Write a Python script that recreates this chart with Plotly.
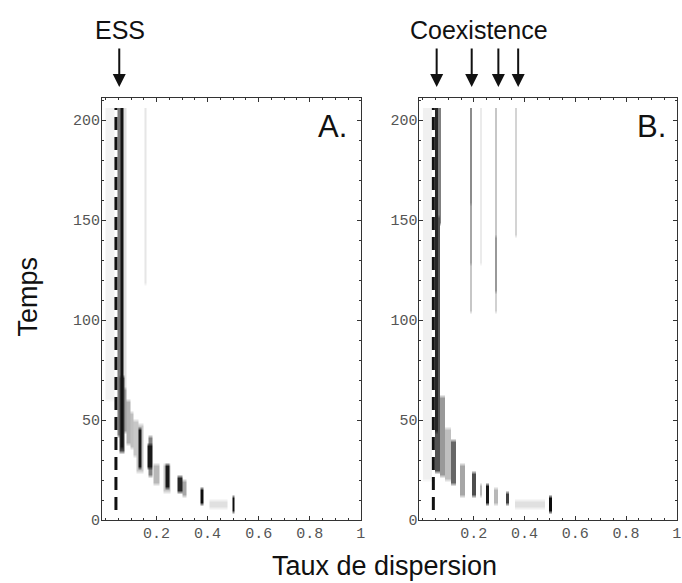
import numpy as np
import plotly.graph_objects as go

# ---------------- data ----------------
# Each patch: dispersion-rate interval [x0, x1], time interval [t0, t1], grey level (0 white .. 1 black)
a_x0 = [0.000, 0.046, 0.057, 0.068, 0.150, 0.052, 0.068, 0.080, 0.095, 0.110, 0.127, 0.120, 0.166, 0.168, 0.184, 0.236, 0.228, 0.281, 0.300, 0.372, 0.405, 0.495]
a_x1 = [0.032, 0.057, 0.068, 0.082, 0.158, 0.076, 0.080, 0.095, 0.110, 0.127, 0.141, 0.148, 0.183, 0.182, 0.210, 0.249, 0.256, 0.299, 0.318, 0.383, 0.475, 0.506]
a_t0 = [62, 44, 38, 60, 120, 36, 45, 40, 37, 33, 28, 26, 27, 23, 20, 17.5, 16, 15, 12.5, 8.5, 8, 5.5]
a_t1 = [205, 205, 205, 205, 205, 70, 65, 58, 52, 48, 45, 47, 36, 40, 27, 26, 27, 21, 19, 15.5, 9.5, 10]
a_lv = [0.05, 0.52, 0.92, 0.12, 0.10, 0.72, 0.38, 0.30, 0.25, 0.22, 0.90, 0.22, 0.90, 0.50, 0.28, 0.90, 0.22, 0.85, 0.35, 0.95, 0.12, 0.95]

b_x0 = [0.000, 0.045, 0.058, 0.045, 0.068, 0.085, 0.183, 0.183, 0.183, 0.226, 0.282, 0.282, 0.282, 0.363, 0.110, 0.145, 0.190, 0.222, 0.245, 0.280, 0.324, 0.363, 0.495]
b_x1 = [0.035, 0.058, 0.070, 0.068, 0.085, 0.110, 0.191, 0.191, 0.191, 0.232, 0.290, 0.290, 0.290, 0.371, 0.127, 0.165, 0.208, 0.233, 0.260, 0.295, 0.338, 0.480, 0.507]
b_t0 = [22, 45, 150, 26, 24, 22, 160, 130, 105, 130, 140, 115, 105, 143, 20, 14, 13.5, 12.5, 9, 10, 8.5, 7.5, 5.5]
b_t1 = [205, 205, 205, 150, 60, 45, 205, 160, 130, 205, 205, 140, 115, 205, 38, 27, 23, 17, 16, 14, 12.5, 9.5, 10]
b_lv = [0.06, 0.85, 0.50, 0.68, 0.40, 0.25, 0.45, 0.35, 0.22, 0.08, 0.22, 0.40, 0.18, 0.17, 0.60, 0.35, 0.70, 0.28, 0.90, 0.28, 0.75, 0.12, 0.95]

ess_x = 0.041            # dashed ESS line position
ess_t = [5, 206]
arrow_a_x = [0.054]
arrow_b_x = [0.054, 0.192, 0.297, 0.375]

x_ticks = [0.2, 0.4, 0.6, 0.8, 1]
x_tick_text = ["0.2", "0.4", "0.6", "0.8", "1"]
y_ticks = [0, 50, 100, 150, 200]
y_tick_text = ["0", "50", "100", "150", "200"]


def raster(x0s, x1s, t0s, t1s, lvs):
    xs = np.arange(0.00125, 0.56, 0.0025)
    ts = np.arange(1.0, 207, 2.0)
    z = np.zeros((len(ts), len(xs)))
    for x0, x1, t0, t1, lv in zip(x0s, x1s, t0s, t1s, lvs):
        xm = (xs >= x0) & (xs <= x1)
        tm = (ts >= t0 - 1) & (ts <= t1 + 1)
        sub = z[np.ix_(tm, xm)]
        z[np.ix_(tm, xm)] = np.maximum(sub, lv)
    return xs, ts, z


W, H = 682, 583
ML, MR, MT, MB = 102, 1, 98, 63
PW = W - ML - MR
PH = H - MT - MB

fig = go.Figure()
gray = [[0, "#ffffff"], [1, "#000000"]]
for (xa, ya), data in [(("x", "y"), (a_x0, a_x1, a_t0, a_t1, a_lv)),
                       (("x2", "y2"), (b_x0, b_x1, b_t0, b_t1, b_lv))]:
    xs, ts, z = raster(*data)
    fig.add_trace(go.Heatmap(x=xs, y=ts, z=z, colorscale=gray, zmin=0, zmax=1, zsmooth="best",
                             showscale=False, xaxis=xa, yaxis=ya, hoverinfo="skip"))
    fig.add_trace(go.Scatter(x=[ess_x, ess_x], y=ess_t, mode="lines",
                             line=dict(color="#111111", width=3, dash="13px,7px"),
                             xaxis=xa, yaxis=ya, showlegend=False, hoverinfo="skip"))

tickfont = dict(family="Liberation Mono, Courier New, monospace", size=15, color="#555555")
ax_common = dict(range=[-0.0136, 1.0005], showgrid=False, zeroline=False, showline=True,
                 linecolor="#333333", linewidth=1, mirror="ticks", ticks="inside",
                 ticklen=4, tickcolor="#333333", tickvals=x_ticks, ticktext=x_tick_text,
                 tickfont=tickfont, ticklabelstandoff=-1,
                 minor=dict(ticks="inside", dtick=0.05, tick0=0, ticklen=2, tickcolor="#333333"))
ay_common = dict(range=[0, 211], showgrid=False, zeroline=False, showline=True,
                 linecolor="#333333", linewidth=1, mirror="ticks", ticks="inside",
                 ticklen=4, tickcolor="#333333", tickvals=y_ticks, ticktext=y_tick_text,
                 tickfont=tickfont, ticklabelstandoff=-2,
                 minor=dict(ticks="inside", dtick=10, tick0=0, ticklen=2, tickcolor="#333333"))

dA = [0, 260.7 / PW]
dB = [(421.7 - ML) / PW, 1]

def px_x(p):
    return (p - ML) / PW

def px_y(p):
    return (H - MB - p) / PH

font_big = "Liberation Sans, Arial, sans-serif"
def label(text, x, y, size, angle=0):
    return dict(text=text, x=px_x(x), y=px_y(y), xref="paper", yref="paper",
                xanchor="center", yanchor="middle", textangle=angle, showarrow=False,
                font=dict(family=font_big, size=size, color="#111111"))

ann = [
    label("ESS", 120, 30, 25),
    label("Coexistence", 482, 30, 25),
    label("A.", 334, 126, 31),
    label("B.", 655, 126, 31),
    label("Temps", 27, 297, 27, -90),
    label("Taux de dispersion", 386, 566, 27),
]
for xr, xs_ in (("x", arrow_a_x), ("x2", arrow_b_x)):
    for xv in xs_:
        ann.append(dict(text="", x=xv, y=px_y(87), xref=xr, yref="paper", showarrow=True,
                        ax=0, ay=-40, arrowhead=2, arrowsize=1.3, arrowwidth=2, arrowcolor="#111111"))

fig.update_layout(
    width=W, height=H, margin=dict(l=ML, r=MR, t=MT, b=MB),
    paper_bgcolor="white", plot_bgcolor="white", showlegend=False,
    xaxis=dict(domain=dA, anchor="y", **ax_common),
    yaxis=dict(domain=[0, 1], anchor="x", **ay_common),
    xaxis2=dict(domain=dB, anchor="y2", **ax_common),
    yaxis2=dict(domain=[0, 1], anchor="x2", **ay_common),
    annotations=ann,
)

fig.write_html("out.html", config={"displayModeBar": False},
               post_script="document.body.style.margin='0px';")
